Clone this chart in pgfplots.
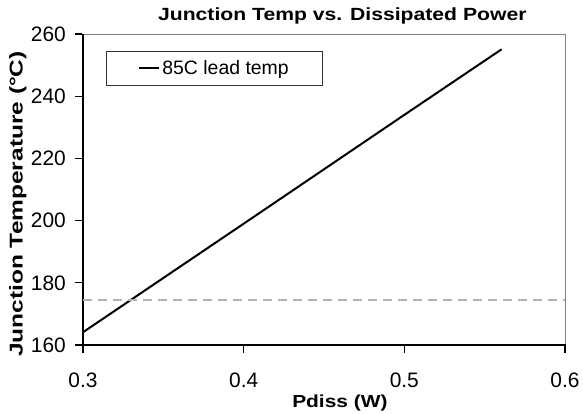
\documentclass[border=0pt]{standalone}
\usepackage{graphicx}
\usepackage{fontspec}
\setmainfont{Liberation Sans}
\usepackage{pgfplots}
\pgfplotsset{compat=1.18}
\definecolor{dashgray}{RGB}{178,178,178}
\definecolor{framegray}{RGB}{128,128,128}
\begin{document}
\begin{tikzpicture}
\begin{axis}[
  at={(0,0)}, anchor=south west,
  scale only axis,
  width=482bp, height=311bp,
  xmin=0.3, xmax=0.6, ymin=160, ymax=260,
  xtick={0.3,0.4,0.5,0.6},
  ytick={160,180,200,220,240,260},
  xticklabels={0.3,0.4,0.5,0.6},
  axis line style={draw=none},
  xtick pos=bottom, ytick pos=left,
  major tick length=0bp,
  /pgf/number format/assume math mode=true,
  tick label style={font=\fontsize{21}{24}\selectfont},
  xticklabel style={anchor=north, inner sep=0pt, yshift=-28bp},
  yticklabel style={anchor=east, inner sep=0pt, xshift=-17bp},
  title={\scalebox{1.2}[1]{\fontsize{17.7}{20}\selectfont\bfseries Junction Temp vs. Dissipated Power}},
  title style={at={(axis description cs:0.538,1.0257)}, anchor=base, inner sep=0pt},
  xlabel={\scalebox{1.2}[1]{\fontsize{17.5}{20}\selectfont\bfseries Pdiss (W)}},
  every axis x label/.style={at={(axis description cs:0.533,-0.1994)}, anchor=base, inner sep=0pt},
  ylabel={\scalebox{1.32}[1]{\fontsize{18.6}{20}\selectfont\bfseries Junction Temperature (°C)}},
  every axis y label/.style={at={(axis description cs:-0.1255,0.4534)}, rotate=90, anchor=base, inner sep=0pt},
  legend style={
    at={(axis description cs:0.0477,0.9453)}, anchor=north west,
    draw=black!80, line width=0.8bp,
    inner xsep=32bp, inner ysep=7bp,
    font=\fontsize{19.5}{22}\selectfont,
    nodes={inner sep=2bp},
    /tikz/every even column/.append style={column sep=2.7bp},
  },
  legend image code/.code={\draw[#1] (0bp,0bp) -- (20bp,0bp);},
  clip=false,
]
\draw[framegray, line width=0.8bp] (rel axis cs:0,1) -- (rel axis cs:1,1) -- (rel axis cs:1,0);
\draw[black, line width=1.2bp] (rel axis cs:0,1) -- (rel axis cs:0,0) -- (rel axis cs:1,0);
\addplot[black, line width=2bp] coordinates {(0.3,164.1) (0.4,199.0) (0.5,234.0) (0.5606,255.1)};
\addlegendentry{85C lead temp}
\addplot[dashgray, line width=2bp, dash pattern=on 9bp off 6bp, forget plot] coordinates {(0.3,174.5) (0.6,174.5)};
\end{axis}
\foreach \xx in {0,160.667,321.333,482} {\draw[black, line width=1.3bp] (\xx bp,0.6bp) -- (\xx bp,-7.5bp);}
\foreach \yy in {0,62.2,124.4,186.6,248.8,311} {\draw[black, line width=1.3bp] (-0.6bp,\yy bp) -- (-7.5bp,\yy bp);}
\pgfresetboundingbox
\path (-83bp,-69bp) rectangle (500bp,345bp);
\end{tikzpicture}
\end{document}
